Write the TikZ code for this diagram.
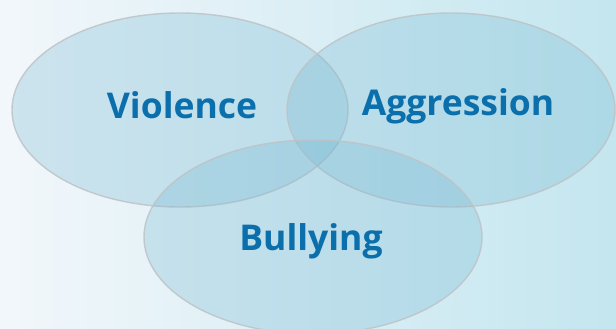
\documentclass[tikz,border=0pt]{standalone}
\usepackage{fontspec}
\setmainfont{Open Sans}
\usetikzlibrary{shapes.geometric}
\definecolor{bgleft}{RGB}{242,247,251}
\definecolor{bgright}{RGB}{196,230,239}
\definecolor{setfill}{RGB}{120,185,210}
\definecolor{setline}{RGB}{190,195,198}
\definecolor{labelblue}{RGB}{11,111,172}
\tikzset{
  setshape/.style={ellipse, draw=setline, line width=1.4pt, fill=setfill, fill opacity=0.3, draw opacity=0.85, inner sep=0pt},
  setlabel/.style={anchor=base, text=labelblue, font=\fontsize{35.5}{35.5}\selectfont\bfseries, inner sep=0pt}
}
\begin{document}
\begin{tikzpicture}[x=1pt,y=-1pt]
\useasboundingbox (0,0) rectangle (616,329);
\shade[left color=bgleft, right color=bgright] (0,0) rectangle (616,329);
\node[setshape, minimum width=336pt, minimum height=194pt] (violence) at (180,110) {};
\node[setshape, minimum width=328pt, minimum height=194pt] (aggression) at (451,110) {};
\node[setshape, minimum width=338pt, minimum height=194pt] (bullying) at (313,237) {};
\node[setlabel] (tv) at (182,118) {Violence};
\node[setlabel] (ta) at (458,115) {Aggression};
\node[setlabel] (tb) at (311,250) {Bullying};
\end{tikzpicture}
\end{document}
